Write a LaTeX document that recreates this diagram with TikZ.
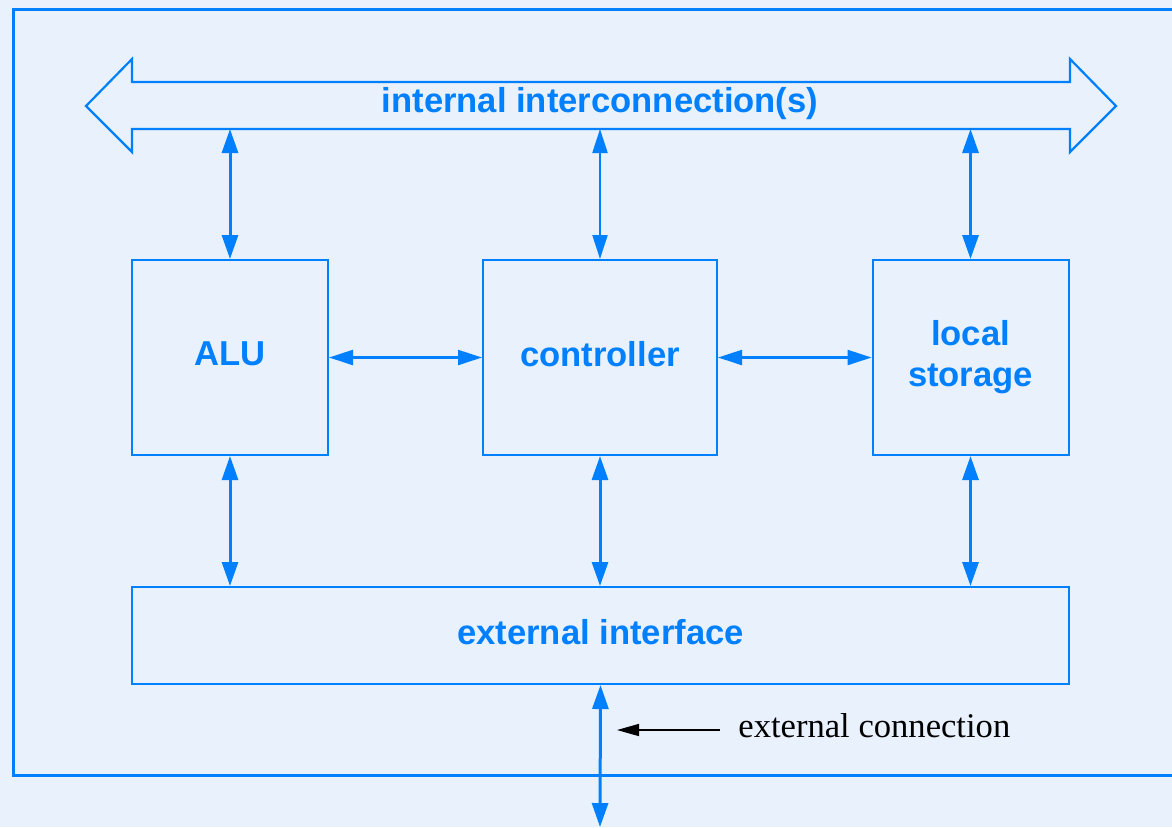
\documentclass[tikz,border=0pt]{standalone}
\usepackage{fontspec}
\setmainfont{Liberation Serif}
\newfontfamily\hvb{Liberation Sans}[BoldFont={* Bold}]
\usetikzlibrary{arrows.meta}
\definecolor{bl}{RGB}{0,128,255}
\definecolor{bg}{RGB}{232,241,252}
\begin{document}
\begin{tikzpicture}[x=0.5pt,y=-0.5pt,
  box/.style={draw=bl, line width=1pt, inner sep=0pt, text=bl,
    font=\hvb\bfseries\fontsize{17.3}{20.5}\selectfont, align=center},
  lbl/.style={text=bl, font=\hvb\bfseries\fontsize{17.3}{20.5}\selectfont, inner sep=0pt},
  dbl/.style={draw=bl, line width=1.5pt, {Triangle[length=12pt,width=8pt]}-{Triangle[length=12pt,width=8pt]}},
  dblthin/.style={draw=bl, line width=1.1pt, {Triangle[length=12pt,width=7.5pt]}-{Triangle[length=12pt,width=7.5pt]}},
  frame/.style={draw=bl, line width=1.5pt},
  busline/.style={draw=bl, line width=1.1pt, line join=miter}
]
\useasboundingbox (0,0) rectangle (1172,827);
\fill[bg] (0,0) rectangle (1172,827);
% outer frame
\draw[frame] (1172,9) -- (13,9) -- (13,775) -- (1172,775);
% bus (double arrow)
\draw[busline] (86,106) -- (132,59) -- (132,82) -- (1070,82) -- (1070,59) -- (1116,106)
  -- (1070,152) -- (1070,129) -- (132,129) -- (132,152) -- cycle;
\node[lbl] (bus) at (600,104) {internal interconnection(s)};
\coordinate (b1) at (230,129);
\coordinate (b2) at (600,129);
\coordinate (b3) at (970.5,129);
% boxes
\node[box, minimum width=98pt, minimum height=97.5pt] (alu) at (230,357.5) {ALU\rule[-4pt]{0pt}{1pt}};
\node[box, minimum width=117pt, minimum height=97.5pt] (ctl) at (600,357.5) {controller\rule[-4pt]{0pt}{1pt}};
\node[box, minimum width=98pt, minimum height=97.5pt] (ls) at (970.5,357.5) {local\\storage};
\node[box, minimum width=468.5pt, minimum height=48.5pt] (ext) at (600.5,635.5) {external interface\rule[-4pt]{0pt}{1pt}};
% connectors
\draw[dbl] (b1) -- (alu.north);
\draw[dblthin] (b2) -- (ctl.north);
\draw[dbl] (b3) -- (ls.north);
\draw[dbl] (alu.south) -- (alu.south |- ext.north);
\draw[dbl] (ctl.south) -- (ctl.south |- ext.north);
\draw[dbl] (ls.south) -- (ls.south |- ext.north);
\draw[dblthin] (alu.east) -- (ctl.west);
\draw[dblthin] (ctl.east) -- (ls.west);
\coordinate (out) at (600,827);
\draw[dbl] (ext.south) -- (out);
% external connection label
\node[anchor=west, inner sep=0pt, font=\fontsize{17.3}{20}\selectfont] (ec) at (738,726) {external connection};
\coordinate (ectip) at (617,730);
\draw[black, line width=0.8pt, -{Triangle[length=11pt,width=6pt]}] (720,730) -- (ectip);
\end{tikzpicture}
\end{document}
